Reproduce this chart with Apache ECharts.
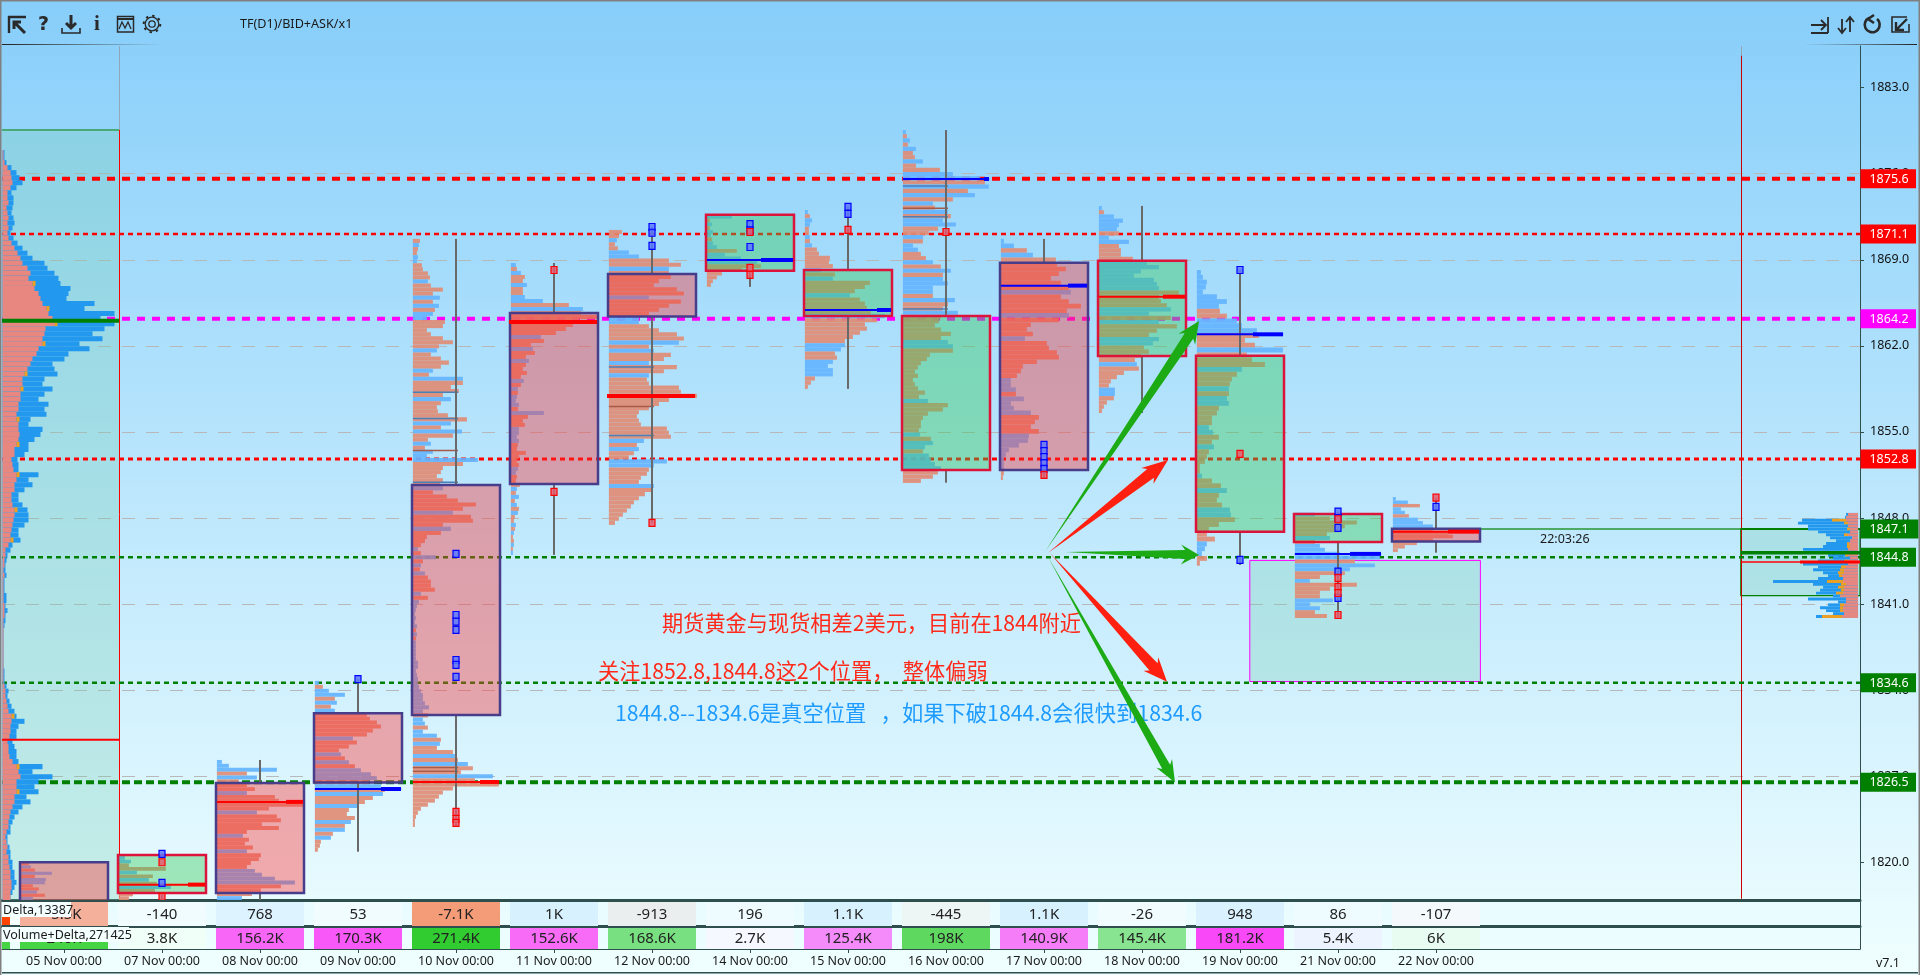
<!DOCTYPE html>
<html><head><meta charset="utf-8">
<style>html,body{margin:0;padding:0;width:1920px;height:975px;overflow:hidden}#c{width:1920px;height:975px}</style>
<script src="https://cdn.jsdelivr.net/npm/echarts@6/dist/echarts.min.js"></script>
</head><body><div id="c"></div>
<script>
const categories=['05 Nov 00:00','07 Nov 00:00','08 Nov 00:00','09 Nov 00:00','10 Nov 00:00','11 Nov 00:00','12 Nov 00:00','14 Nov 00:00','15 Nov 00:00','16 Nov 00:00','17 Nov 00:00','18 Nov 00:00','19 Nov 00:00','21 Nov 00:00','22 Nov 00:00'];
const priceTicks=[1820,1827,1834,1841,1848,1855,1862,1869,1876,1883];
const deltaLabels=['-5.5K','-140','768','53','-7.1K','1K','-913','196','1.1K','-445','1.1K','-26','948','86','-107'];
const volumeLabels=['240K','3.8K','156.2K','170.3K','271.4K','152.6K','168.6K','2.7K','125.4K','198K','140.9K','145.4K','181.2K','5.4K','6K'];
const deltaColors=['#F4B09A','#F1FCFF','#DDF3FF','#F1FCFF','#F49B78','#D8F1FF','#EBEEEE','#EEFBFF','#D8F1FF','#EEF5F5','#D8F1FF','#F1FCFF','#DAF2FF','#EFFCFF','#F4FAFC'];
const volumeColors=['#44D444','#F0FFF8','#F866F8','#F858F8','#30CC30','#F76BF7','#78E080','#F6F8FF','#F58BFA','#5FD860','#F67DF8','#88E490','#F848F8','#EDF4FF','#E8FCF2'];
const boxTop=[1820,1820.6,1826.45,1832.12,1850.69,1864.68,1867.85,1872.67,1868.17,1864.43,1868.77,1868.93,1861.2,1848.33,1847.13];
const boxBottom=[1815,1817.5,1817.5,1826.48,1831.98,1850.77,1864.38,1868.1,1864.43,1851.91,1851.91,1861.18,1846.89,1846.05,1846.08];
const boxBull=[0,1,0,0,0,0,0,1,1,1,0,1,1,1,0];
const wickHigh=[1820,1820.68,1828.32,1834.9,1870.7,1868.74,1871.67,1872.67,1873.3,1879.56,1870.7,1873.38,1868.17,1848.52,1849.65];
const wickLow=[1815,1816,1816,1820.86,1822.87,1845,1847.6,1866.8,1858.5,1850.87,1851.18,1856.54,1844.18,1839.87,1845.18];
const pocPrice=[null,1818.18,1824.91,1825.96,1826.53,1863.94,1857.93,1868.99,1864.92,1875.57,1866.9,1866,1862.94,1845.08,1846.89];
const pocBlue=[0,0,0,1,0,0,0,1,1,1,1,0,1,1,0];
const pocThick=[0,17,17,20,19,88,88,32,14,5,19,22,30,31,31];
const bidMarks=[[1,1820.68],[1,1818.32],[3,1834.9],[4,1845.08],[4,1840.11],[4,1839.57],[4,1838.9],[4,1836.45],[4,1836.05],[4,1835.07],[6,1871.67],[6,1871.2],[6,1870.13],[7,1871.9],[7,1871.4],[7,1870.04],[8,1873.3],[8,1872.73],[10,1853.94],[10,1853.45],[10,1852.96],[10,1852.47],[10,1851.99],[12,1868.17],[12,1844.59],[13,1848.52],[13,1848.0],[13,1847.19],[13,1843.64],[13,1841.5],[14,1848.9]];
const askMarks=[[1,1820],[1,1817.18],[4,1824.09],[4,1823.52],[4,1823.2],[5,1868.17],[5,1850.12],[6,1847.6],[7,1871.26],[7,1868.34],[7,1867.77],[8,1871.43],[9,1871.26],[10,1851.5],[12,1853.21],[13,1847.9],[13,1843.13],[13,1842.39],[13,1841.9],[13,1840.11],[14,1849.65]];
const p05=[-8,10,-14,31,-14,25,24,-12,-18,16,-24,12];
const p07=[6,12,-10,-47,18,-34,30,-38,52,-36,-14,-10];
const p08=[5,12,60,-30,40,-22,-30,-38,30,-58,-62,-86,-52,40,-60,-64,-45,-62,-30,26,-32,-28,-36,30,-44,-42,-34,-30,38,45,58,78,-64,-44,-35,25];
const p09=[4,-8,14,30,-20,22,-16,20,-52,-55,-62,-66,-58,-52,38,-42,-34,-24,26,-30,34,-40,46,56,62,-54,66,-70,68,-58,-50,44,-34,-32,-40,36,-30,30,-18,16,-6,-5,-3];
const p10=[-7,6,-5,-4,5,4,-9,-10,-15,-17,15,-18,-30,-20,27,-20,26,-22,20,14,-32,-30,-14,-18,-30,-40,-26,24,-18,-28,-36,-28,20,-16,50,-50,-38,-46,-30,38,-28,-24,-25,-35,-54,38,-28,49,-40,-15,18,-12,20,14,65,-50,-30,-28,-24,-30,-27,30,-20,-34,-45,-63,-50,40,-58,-60,-30,38,-28,-14,-12,-8,5,-8,23,-10,8,-7,12,-15,-18,-18,-22,8,-15,6,4,3,2,3,2,4,-3,4,-3,3,3,3,3,3,5,5,3,4,5,5,6,8,10,10,12,16,10,-15,10,12,-15,10,24,-28,27,-24,-40,42,-45,55,-60,-48,80,-62,-86,-40,-30,-26,-22,-15,-8,-5,-3,-2,-2];
const p11=[5,-6,10,-14,-12,16,-12,-12,14,32,-58,72,-70,-86,-68,-62,-55,-45,30,-33,-20,22,-24,-15,18,-15,-12,-16,-10,13,-10,7,-7,6,5,8,-7,33,-17,-12,-14,8,8,6,8,-7,-6,-15,-8,-6,-8,7,5,-6,-5,-9,6,-5,8,-4,6,-8,7,-4,-3,5,-4,3,-2,-3,3,-2,2];
const p12=[-13,-10,8,-6,-9,20,30,-60,-72,60,-60,-62,-50,-45,-68,-75,40,-72,-60,-50,-40,30,30,-40,-50,-68,-75,70,-40,45,-62,-55,40,-68,-55,40,-38,-40,-70,-72,-88,-60,-50,-40,-30,-28,-30,-32,-58,-60,-62,35,-28,30,-25,-20,58,45,-40,-38,-32,-30,45,-44,-36,-30,-25,-22,-18,-14,-10,-6];
const p14=[25,-3,5,-3,6,4,-5,6,10,-30,18,34,50,-54,-35,-15,-10,-6,-4];
const p15=[3,-5,7,5,-4,-4,5,-5,7,-12,-14,-25,-24,-28,16,-30,28,-65,-60,-50,45,-55,-60,-62,-66,80,-72,-60,-62,-55,-48,-40,40,36,-30,-32,28,23,28,28,-10,-6,-3];
const p16=[3,-4,7,-5,13,-10,-12,20,-13,-37,50,77,-82,86,-65,72,-50,30,-32,45,-48,40,53,-35,-26,20,-20,10,15,-18,-23,30,-38,48,-40,40,45,30,30,-30,52,-45,-40,55,-38,-36,-32,-38,-48,-38,45,50,-50,-27,-24,-18,-15,-12,-15,-10,-12,-15,-22,-16,25,-45,-40,-25,-20,-18,-18,-16,17,-28,30,22,-20,26,28,32,38,-35,-30,-18];
const p17=[3,13,-26,32,-55,-56,-65,-58,-50,-60,-68,70,-60,-68,-80,-66,68,-58,-30,-26,-32,24,-46,-48,-56,-58,-36,-22,-20,-16,10,10,15,-15,23,10,13,30,-38,-34,-30,-38,28,27,18,8,5,3,3,3,-3,-2];
const p18=[3,-5,15,24,20,18,-20,10,30,-20,-22,-22,-34,48,60,42,35,55,58,60,-80,-60,-62,-68,72,50,-72,60,-78,-58,-50,60,54,-45,-50,-42,-36,38,-40,-25,-18,-12,-10,16,16,-15,-8,-5,-3];
const p19=[4,6,10,9,6,20,30,22,-23,-30,40,45,60,-62,-48,-58,86,-50,-55,-68,45,-40,-35,-33,32,-32,30,32,-22,-20,-15,-15,12,16,-22,-15,17,-12,-10,-8,-3,-3,5,-15,-24,30,-22,-20,-25,33,34,-38,-22,-12,-10,-18,10,8,5,-10,-3];
const p21=[20,-35,-62,-50,-45,-32,35,-20,25,30,45,85,-60,80,55,-50,-25,15,-62,-35,-25,-25,38,15,25,-20,-32];
const p22=[3,15,-27,8,12,-16,25,30,40,-40,-55,-60,-40,-24,-12,-5];
const dayProfiles=[p05,p07,p08,p09,p10,p11,p12,p14,p15,p16,p17,p18,p19,p21,p22];
const profileTop=[1820,1820.5,1828.32,1834.75,1870.7,1868.74,1871.43,1872.65,1873.05,1879.56,1870.7,1873.38,1868.17,1848.43,1849.7];
const profileBottom=[1816.93,1816.93,1816.93,1820.86,1822.87,1845,1847.44,1866.8,1858.5,1850.85,1851.09,1856.54,1844.12,1839.87,1845.24];
const thinPrices=[[4,1858.22],[4,1856.1],[4,1853.5],[4,1850.9],[4,1827.7],[4,1827.4],[6,1860.28],[6,1857.06],[6,1854.7],[9,1873.2],[9,1872.5],[9,1865],[9,1875]];
const leftSalmon=[1,1,2,5,8,9,10,8,5,5,6,4,5,6,5,6,5,6,9,12,15,18,20,25,28,26,30,32,36,38,40,44,46,50,52,43,42,40,40,36,34,30,28,25,22,20,20,18,18,18,16,16,14,14,16,16,17,16,14,12,12,9,10,11,14,14,12,12,9,9,10,12,12,11,10,9,8,8,6,3,3,2,2,1,2,1,1,1,1,1,2,2,2,1,1,1,1,1,1,1,1,1,1,1,1,1,2,3,3,4,5,6,9,9,8,8,7,5,6,6,7,10,14,16,18,14,14,14,12,12,10,8,7,6,6,4,3,4,5,4,6,6,7,8,8,9,9,8,8];
const leftTotal=[2,2,4,9,14,17,20,14,9,11,11,10,9,11,12,10,8,11,15,20,25,30,42,45,52,56,58,68,66,64,92,82,112,98,112,102,90,100,77,87,66,62,50,52,55,42,40,50,42,36,46,42,44,28,26,40,38,32,26,26,22,15,16,16,36,26,30,22,16,16,20,25,26,26,22,16,16,18,10,8,5,4,3,3,4,2,2,2,4,4,3,5,3,3,2,1,1,1,1,1,1,1,1,2,2,2,4,6,5,7,9,12,14,22,16,14,14,10,12,14,14,16,40,30,50,36,32,36,24,28,20,16,12,10,8,8,5,5,7,8,8,10,10,12,12,14,12,10,8];
const leftOrangeRows=[26,31,34,38,44,47,53,58,64,71,77,112,122,127];
const rightSalmon=[10,12,12,10,10,8,8,10,6,8,9,8,10,10,10,8,10,10,12,14,14,16,15,15,12,14,14,15,18,12,12,14,15,15,14,16];
const rightTotal=[12,13,56,60,50,50,40,32,28,22,32,35,55,50,30,25,40,55,40,45,35,30,40,85,45,35,38,42,25,50,20,30,38,32,25,42];
const rightOrange=[0,0,14,4,0,3,0,4,0,0,2,3,0,7,3,0,4,0,5,4,6,3,0,16,5,6,3,7,0,0,0,4,3,3,0,20];
const levelPrices=[1875.6,1871.1,1864.2,1852.8,1844.8,1834.6,1826.5];
const liveLabels=[1847.1];
const arrowTails=[[10.01,1845.26],[10.04,1845.15],[10.224,1845.24],[10.06,1845.15],[10.04,1844.85]];
const arrowTips=[[11.582,1864.03],[11.265,1852.72],[11.582,1845.0],[11.255,1834.69],[11.337,1826.48]];
const zoneX=[12.1,14.453];
const zonePrice=[1844.55,1834.7];
const leftBoxPrice=[1879.56,1816.93];
const leftPoc=1864.05, leftMid=1829.97;
const liveBoxPrice=[1847.11,1841.68];
const livePoc=1845.18, liveMid=1844.42;
</script>
<script>
const XMIN=-0.6327,XMAX=18.3265,YMIN=1816.93,YMAX=1886.39,LB=0.561,RB=17.11,ZEND=zoneX[1];
const FONT='"Noto Sans","Liberation Sans",sans-serif';
const levelStyle=[['#FF0000',4,[8,7]],['#FF0000',2.5,[5,4]],['#FF00FF',4,[8,7]],['#FF0000',3,[5,4]],['#008000',2.5,[5,4]],['#008000',2.5,[5,4]],['#008000',4,[8,4]]];
const arrowStyle=[['#1CAB14',5,10,18],['#FF2010',5.5,10,22],['#1CAB14',4.5,10,14],['#FF2010',5.5,10,20],['#1CAB14',4.5,9,18]];
const iconPaths=[['M9 33 V17 H26',2.4],['M14 22 L25 33 M14 29 V22 H21',3],['M71 15 V27 M66 23 L71 28 L76 23',3],['M62 28 V33 H80 V28',1.6],['M117.5 16.5 H133.5 V32 H117.5 Z',1.5],['M117.5 19 H133.5',2],['M119 29 L122 22 L125 28 L128 22 L131 29',1.3],['M1811 25 H1826 M1821 20 L1826 25 L1821 30 M1828 17 V33 M1811 33 H1828',1.8],['M1842 19 V32 M1838 28 L1842 33 L1846 28 M1850 32 V18 M1846 22 L1850 17 L1854 22',1.8],['M1869 18 A7.5 7.5 0 1 0 1877 19 M1874 15 L1868 19 L1874 23',2.6],['M1907 17 H1892 V32 H1909 V24',1.6],['M1907 19 L1896 30 M1896 22 V30 H1904',2.4]];
function rectBetween(api,x0,p0,x1,p1,style){const a=api.coord([x0,p0]),b=api.coord([x1,p1]);return{type:'rect',shape:{x:Math.min(a[0],b[0]),y:Math.min(a[1],b[1]),width:Math.abs(b[0]-a[0]),height:Math.abs(b[1]-a[1])},style};}
function lineBetween(api,x0,p0,x1,p1,style){const a=api.coord([x0,p0]),b=api.coord([x1,p1]);return{type:'line',shape:{x1:a[0],y1:a[1],x2:b[0],y2:b[1]},style};}
function vertical(api,x0,p0,p1,style){const a=api.coord([x0,p0]),b=api.coord([x0,p1]);const x=Math.round(a[0])+0.5;return{type:'line',shape:{x1:x,y1:a[1],x2:x,y2:b[1]},style};}
function layer(name,rows,render,z,extra){return Object.assign({type:'custom',name,data:rows.map((r,i)=>[typeof r[0]==='number'?r[0]:i,typeof r[1]==='number'?r[1]:0]),renderItem:(p,api)=>render(rows[p.dataIndex],api,p.dataIndex),z,silent:true,animation:false,clip:true,progressive:0,xAxisIndex:0,yAxisIndex:0,encode:{x:0,y:1}},extra||{});}
const barRows=[];
dayProfiles.forEach((vals,d)=>{const step=(profileTop[d]-profileBottom[d])/vals.length;vals.forEach((v,i)=>barRows.push([d,profileTop[d]-i*step,profileTop[d]-(i+1)*step,v]));});
const leftRows=leftSalmon.map((s,i)=>{const step=(1877.93-YMIN)/leftSalmon.length;return[XMIN+0.005,1877.93-i*step,1877.93-(i+1)*step,s,leftTotal[i],leftOrangeRows.includes(i)?3:0];});
const rightRows=rightSalmon.map((s,i)=>{const step=(1848.41-1839.87)/rightSalmon.length;return[XMAX-0.02,1848.41-i*step,1848.41-(i+1)*step,s,rightTotal[i],rightOrange[i]];});
const dayIdx=categories.map((c,i)=>[i,boxTop[i]]);
const series=[
 layer('icons',[[0,0]],()=>({type:'group',children:iconPaths.map(p=>({type:'path',shape:{pathData:p[0]},style:{stroke:'#2A2A2A',fill:'none',lineWidth:p[1]}})).concat([{type:'circle',shape:{cx:152,cy:24,r:6.8},style:{fill:'none',stroke:'#2A2A2A',lineWidth:1.3}},{type:'circle',shape:{cx:152,cy:24,r:3.2},style:{fill:'none',stroke:'#2A2A2A',lineWidth:1.3}},{type:'circle',shape:{cx:152,cy:24,r:8.3},style:{fill:'none',stroke:'#2A2A2A',lineWidth:2,lineDash:[2.5,4]}}])}),50,{clip:false}),
 layer('leftBox',[[0,0]],(r,api)=>rectBetween(api,XMIN,leftBoxPrice[0],LB,leftBoxPrice[1],{fill:'rgba(120,205,180,0.3)'}),2),
 layer('zone',[[0,0]],(r,api)=>rectBetween(api,zoneX[0],zonePrice[0],zoneX[1],zonePrice[1],{fill:'rgba(120,205,180,0.3)',stroke:'#FF00FF',lineWidth:1}),2),
 layer('liveBox',[[0,0]],(r,api)=>rectBetween(api,RB,liveBoxPrice[0],XMAX,liveBoxPrice[1],{fill:'rgba(120,205,180,0.3)',stroke:'#008000',lineWidth:1.2}),2),
 layer('vlines',[[LB,0],[RB,0]],(r,api)=>({type:'group',children:[
   vertical(api,r[0],YMAX,r[0]===LB?leftBoxPrice[0]:1885.6,{stroke:'rgba(150,130,130,0.55)',lineWidth:1}),
   vertical(api,r[0],r[0]===LB?leftBoxPrice[0]:1885.6,YMIN+0.1,{stroke:r[0]===LB?'#FF0000':'#CC0000',lineWidth:1})]}),3),
 layer('levels',levelPrices.map((p,i)=>[i,p]),(r,api)=>{const s=levelStyle[r[0]];return lineBetween(api,XMIN,r[1],XMAX,r[1],{stroke:s[0],lineWidth:s[1],lineDash:s[2]});},3),
 layer('liveLine',[[0,0]],(r,api)=>({type:'group',children:[
   lineBetween(api,ZEND,liveLabels[0],RB,liveLabels[0],{stroke:'rgba(0,128,0,0.6)',lineWidth:2}),
   lineBetween(api,RB,liveLabels[0],XMAX,liveLabels[0],{stroke:'#008000',lineWidth:2})]}),3),
 layer('leftBars',leftRows,(r,api)=>({type:'group',children:[
   rectBetween(api,r[0],r[1],r[0]+r[4]/98,r[2],{fill:'#2299EE'}),
   rectBetween(api,r[0],r[1],r[0]+r[3]/98,r[2],{fill:'#E8877F'}),
   ...(r[5]?[rectBetween(api,r[0]+r[3]/98,r[1],r[0]+(r[3]+r[5])/98,r[2],{fill:'#F0A020'})]:[])]}),4),
 layer('rightBars',rightRows,(r,api)=>({type:'group',children:[
   rectBetween(api,r[0],r[1],r[0]-r[4]/98,r[2],{fill:'#2299EE'}),
   ...(r[5]?[rectBetween(api,r[0]-r[3]/98,r[1],r[0]-(r[3]+r[5])/98,r[2],{fill:'#F0A020'})]:[]),
   rectBetween(api,r[0],r[1],r[0]-r[3]/98,r[2],{fill:'#E8877F'})]}),4),
 layer('leftLines',[[0,0]],(r,api)=>{const m=api.coord([XMAX,liveMid]);return{type:'group',children:[
   lineBetween(api,XMIN,leftBoxPrice[0],LB,leftBoxPrice[0],{stroke:'#008000',lineWidth:1}),
   lineBetween(api,XMIN,leftPoc,LB,leftPoc,{stroke:'#008000',lineWidth:4}),
   lineBetween(api,XMIN,leftMid,LB,leftMid,{stroke:'#FF0000',lineWidth:2}),
   lineBetween(api,RB,livePoc,XMAX,livePoc,{stroke:'#008000',lineWidth:3.5}),
   lineBetween(api,RB,liveMid,XMAX,liveMid,{stroke:'#FF0000',lineWidth:1.5}),
   {type:'rect',shape:{x:m[0]-60,y:m[1]-1.5,width:60,height:3},style:{fill:'#FF0000'}}]};},6),
 layer('bars',barRows,(r,api)=>{const x=r[0]-0.44,neg=r[3]<0;return rectBetween(api,x,r[1],x+Math.abs(r[3])/98,r[2],{fill:neg?'#E08C75':'#64B4FF',opacity:0.92});},4),
 layer('thin',thinPrices,(r,api)=>lineBetween(api,r[0]-0.44,r[1],r[0]+0.02,r[1],{stroke:r[1]%2>1?'#A85A48':'#4A7FB8',lineWidth:1.5}),5),
 layer('wicks',dayIdx,(r,api,i)=>({type:'group',children:[
   lineBetween(api,i,wickHigh[i],i,boxTop[i],{stroke:'#696969',lineWidth:2}),
   lineBetween(api,i,boxBottom[i],i,wickLow[i],{stroke:'#696969',lineWidth:2})]}),5),
 layer('boxes',dayIdx,(r,api,i)=>rectBetween(api,i-0.449,boxTop[i],i+0.449,boxBottom[i],{fill:boxBull[i]?'rgba(50,200,85,0.4)':'rgba(255,50,50,0.4)',stroke:boxBull[i]?'#DC143C':'#483D8B',lineWidth:2.5}),6),
 layer('poc',dayIdx.filter((r,i)=>pocPrice[i]!=null),(r,api)=>{const i=r[0],c=pocBlue[i]?'#0000FF':'#FF0000';const p=api.coord([i+0.449,pocPrice[i]]);return{type:'group',children:[
   lineBetween(api,i-0.44,pocPrice[i],i+0.44,pocPrice[i],{stroke:c,lineWidth:2}),
   {type:'rect',shape:{x:p[0]-pocThick[i]-1,y:p[1]-2,width:pocThick[i],height:4},style:{fill:c}}]};},7),
 layer('bidMarks',bidMarks,(r,api)=>{const p=api.coord(r);return{type:'rect',shape:{x:p[0]-3,y:p[1]-3.5,width:6,height:7},style:{fill:'rgba(90,120,255,0.85)',stroke:'#0000FF',lineWidth:1.2}};},8),
 layer('askMarks',askMarks,(r,api)=>{const p=api.coord(r);return{type:'rect',shape:{x:p[0]-3,y:p[1]-3.5,width:6,height:7},style:{fill:'rgba(230,90,110,0.85)',stroke:'#FF0000',lineWidth:1.2}};},8),
 layer('arrows',arrowTails,(r,api,i)=>{const a=api.coord(arrowTails[i]),b=api.coord(arrowTips[i]),[col,hw,wing,len]=arrowStyle[i];const L=Math.hypot(b[0]-a[0],b[1]-a[1]),ux=(b[0]-a[0])/L,uy=(b[1]-a[1])/L,nx=-uy,ny=ux;const bx=b[0]-ux*len,by=b[1]-uy*len,wx=b[0]-ux*(len+4),wy=b[1]-uy*(len+4);
   return{type:'polygon',shape:{points:[a,[bx+nx*hw,by+ny*hw],[wx+nx*wing,wy+ny*wing],b,[wx-nx*wing,wy-ny*wing],[bx-nx*hw,by-ny*hw]]},style:{fill:col}};},30),
 layer('levelLabels',levelPrices.map((p,i)=>[i,p]).concat([[7,liveLabels[0]]]),(r,api)=>{const col=r[0]===7?'#008000':levelStyle[r[0]][0];const p=api.coord([XMAX,r[1]]);return{type:'group',children:[
   {type:'rect',shape:{x:p[0]+0.5,y:p[1]-9.5,width:r[0]===7?58:55.5,height:19},style:{fill:col}},
   {type:'text',style:{x:p[0]+29,y:p[1]+0.5,text:r[1].toFixed(1),fill:'#fff',font:'12.5px '+FONT,align:'center',verticalAlign:'middle'}}]};},40,{clip:false}),
 layer('deltaCells',dayIdx,(r,api,i)=>{const a=api.coord([i-0.449,1]),b=api.coord([i+0.449,0]);return{type:'group',children:[
   {type:'rect',shape:{x:a[0],y:a[1],width:b[0]-a[0],height:b[1]-a[1]},style:{fill:deltaColors[i]}},
   {type:'text',style:{x:(a[0]+b[0])/2,y:(a[1]+b[1])/2+0.5,text:deltaLabels[i],fill:'#222',font:'15px '+FONT,align:'center',verticalAlign:'middle'}}]};},5,{xAxisIndex:1,yAxisIndex:1,clip:false,data:dayIdx.map(r=>[r[0],0.5])}),
 layer('volumeCells',dayIdx,(r,api,i)=>{const a=api.coord([i-0.449,1]),b=api.coord([i+0.449,0]);return{type:'group',children:[
   {type:'rect',shape:{x:a[0],y:a[1],width:b[0]-a[0],height:b[1]-a[1]},style:{fill:volumeColors[i]}},
   {type:'text',style:{x:(a[0]+b[0])/2,y:(a[1]+b[1])/2+0.5,text:volumeLabels[i],fill:'#222',font:'15px '+FONT,align:'center',verticalAlign:'middle'}}]};},5,{xAxisIndex:2,yAxisIndex:2,clip:false,data:dayIdx.map(r=>[r[0],0.5])}),
];
const txt=(x,y,t,font,fill,extra)=>({type:'text',x,y,z:20,style:Object.assign({text:t,font,fill,verticalAlign:'middle'},extra||{})});
const graphic=[
 {type:'rect',z:60,shape:{x:0,y:0,width:1920,height:1.5},style:{fill:'#808080'}},
 {type:'rect',z:60,shape:{x:0,y:0,width:1.5,height:975},style:{fill:'#808080'}},
 {type:'rect',z:60,shape:{x:1918.5,y:0,width:1.5,height:975},style:{fill:'#808080'}},
 {type:'rect',z:60,shape:{x:2,y:972,width:1916,height:1.5},style:{fill:'#2F4F4F'}},
 {type:'rect',z:60,shape:{x:2,y:44,width:164,height:1},style:{fill:new echarts.graphic.LinearGradient(0,0,1,0,[{offset:0,color:'#222'},{offset:1,color:'rgba(60,60,60,0)'}])}},
 {type:'rect',z:60,shape:{x:1803,y:44,width:114,height:1},style:{fill:new echarts.graphic.LinearGradient(0,0,1,0,[{offset:0,color:'rgba(60,60,60,0)'},{offset:1,color:'#222'}])}},
 txt(38,25,'?','bold 19px "DejaVu Sans"','#2A2A2A'),
 txt(94,25,'i','bold 21px "Liberation Serif"','#2A2A2A'),
 txt(240,24,'TF(D1)/BID+ASK/x1','12.6px '+FONT,'#1A1A1A'),
 txt(662,623,'期货黄金与现货相差2美元，目前在1844附近','21.2px "Noto Sans CJK SC"','#FF2A1A'),
 txt(598,671,'关注1852.8,1844.8这2个位置，  整体偏弱','21.2px "Noto Sans CJK SC"','#FF2A1A'),
 txt(615,713,'1844.8--1834.6是真空位置   ，如果下破1844.8会很快到1834.6','21.3px "Noto Sans CJK SC"','#1E9BFF'),
 txt(1540,539.5,'22:03:26','12.5px '+FONT,'#1A1A1A'),
 {type:'rect',z:100,shape:{x:2,y:902,width:69,height:15},style:{fill:'#F4FFFF'}},
 {type:'rect',z:100,shape:{x:2,y:917,width:8,height:8},style:{fill:'#FF4500'}},
 {type:'rect',z:100,shape:{x:10,y:917,width:10,height:8},style:{fill:'#F4FFFF'}},
 {type:'rect',z:100,shape:{x:2,y:927,width:127,height:15},style:{fill:'#F4FFFF'}},
 {type:'rect',z:100,shape:{x:2,y:942,width:8,height:7},style:{fill:'#44D444'}},
 Object.assign(txt(3,910,'Delta,13387','12.5px '+FONT,'#1A1A1A'),{z:101}),
 Object.assign(txt(3,935,'Volume+Delta,271425','12.5px '+FONT,'#1A1A1A'),{z:101}),
 txt(1876,963,'v7.1','12.5px '+FONT,'#1A1A1A'),
];
const hiddenX=(gi,line,w)=>({type:'value',gridIndex:gi,min:XMIN,max:XMAX,axisLabel:{show:false},axisTick:{show:false},splitLine:{show:false},axisLine:{show:line,onZero:false,lineStyle:{color:'#2F4F4F',width:w}}});
const hiddenY=(gi)=>({type:'value',gridIndex:gi,min:0,max:1,position:'right',axisLabel:{show:false},axisTick:{show:false},splitLine:{show:false},axisLine:{show:true,onZero:false,lineStyle:{color:'#2F4F4F',width:1}}});
const option={
 animation:false,
 backgroundColor:new echarts.graphic.LinearGradient(0,0,0,1,[{offset:0,color:'#87CEFA'},{offset:1,color:'#F0FFFF'}]),
 grid:[{left:2,top:46,width:1858,height:854},{left:2,top:902,width:1858,height:24},{left:2,top:928,width:1858,height:21}],
 xAxis:[hiddenX(0,true,3),hiddenX(1,true,3),
  {type:'value',gridIndex:2,min:XMIN,max:XMAX,splitLine:{show:false},axisLine:{show:true,onZero:false,lineStyle:{color:'#2F4F4F',width:1}},axisTick:{show:true,length:4,customValues:categories.map((c,i)=>i),lineStyle:{color:'#2F4F4F'}},axisLabel:{show:true,margin:6,hideOverlap:false,customValues:categories.map((c,i)=>i),formatter:v=>categories[v],color:'#1A1A1A',fontSize:12.5,fontFamily:FONT}}],
 yAxis:[{type:'value',gridIndex:0,min:YMIN,max:YMAX,position:'right',
   axisLine:{show:true,onZero:false,lineStyle:{color:'#2F4F4F',width:1}},
   axisTick:{show:true,length:4,customValues:priceTicks,lineStyle:{color:'#2F4F4F'}},
   axisLabel:{show:true,margin:10,hideOverlap:false,customValues:priceTicks,formatter:v=>v.toFixed(1),color:'#111',fontSize:12.5,fontFamily:FONT},
   splitLine:{show:true,showMinLine:false,showMaxLine:false,lineStyle:{color:'#B8B8B8',width:1,type:[13,11]}}},
  hiddenY(1),hiddenY(2)],
 graphic:{elements:graphic},
 series
};
const chart=echarts.init(document.getElementById('c'),null,{renderer:'canvas',width:1920,height:975});
chart.setOption(option);
</script></body></html>
